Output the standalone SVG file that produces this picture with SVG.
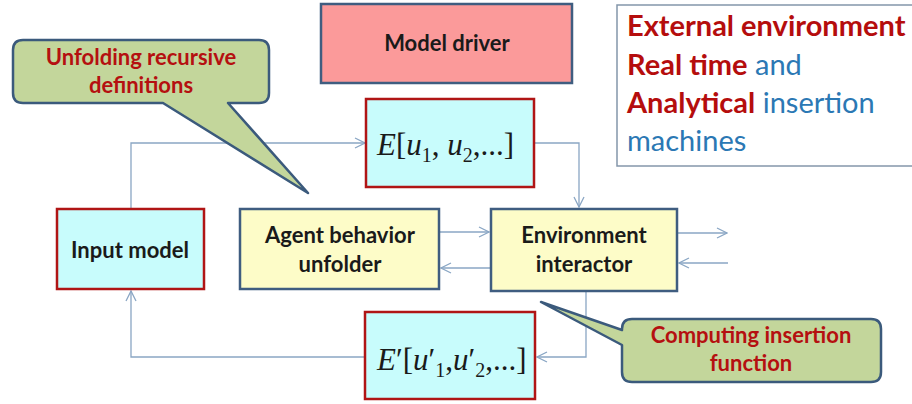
<svg xmlns="http://www.w3.org/2000/svg" width="912" height="404" viewBox="0 0 912 404">
<defs>
<style>
.blue{fill:#c8fcfc;stroke:#b01515;stroke-width:2.5}
.yel{fill:#fdfcc8;stroke:#3f5d80;stroke-width:2.5}
.pink{fill:#fb9a9a;stroke:#3f5d80;stroke-width:2.5}
.call{fill:#c3d69b;stroke:#3b5a7c;stroke-width:2.5;stroke-linejoin:round}
.lbl{font-family:Lato,"Liberation Sans",sans-serif;font-weight:bold;font-size:22px;fill:#1a1a1a;text-anchor:middle}
.clbl{font-family:Lato,"Liberation Sans",sans-serif;font-weight:bold;font-size:22px;fill:#b51010;text-anchor:middle}
.math{font-family:"Liberation Serif","DejaVu Serif",serif;font-size:31px;fill:#1a1a1a}
.it{font-style:italic}
.sub{font-size:20px}
.conn{fill:none;stroke:#8aa6c4;stroke-width:1.3}
.ext{font-family:Lato,"Liberation Sans",sans-serif;font-size:29px}
.r{fill:#b50d0d;font-weight:bold}
.b{fill:#2b78b4}
</style>
<marker id="ah" viewBox="0 0 12 12" refX="11" refY="6" markerWidth="12" markerHeight="12" markerUnits="userSpaceOnUse" orient="auto">
<polyline points="1,1 11,6 1,11" fill="none" stroke="#8aa6c4" stroke-width="1.3"/>
</marker>
</defs>
<rect width="912" height="404" fill="#ffffff"/>

<g id="connectors">
<polyline class="conn" points="131,209 131,143 365,143" marker-end="url(#ah)"/>
<polyline class="conn" points="535,143 579,143 579,207" marker-end="url(#ah)"/>
<line class="conn" x1="440" y1="232" x2="489" y2="232" marker-end="url(#ah)"/>
<line class="conn" x1="490" y1="268" x2="441" y2="268" marker-end="url(#ah)"/>
<line class="conn" x1="678" y1="233" x2="727" y2="233" marker-end="url(#ah)"/>
<line class="conn" x1="728" y1="263" x2="679" y2="263" marker-end="url(#ah)"/>
<polyline class="conn" points="586,292 586,357 537,357" marker-end="url(#ah)"/>
<polyline class="conn" points="364,357 131,357 131,291" marker-end="url(#ah)"/>
</g>

<g id="model-driver">
<rect class="pink" x="321" y="4" width="251" height="79"/>
<text class="lbl" x="447" y="51">Model driver</text>
</g>

<g id="external-environment">
<rect x="617" y="5" width="310" height="161" fill="#ffffff" stroke="#8496aa" stroke-width="1.5"/>
<text class="ext" x="627" y="36"><tspan class="r">External environment</tspan></text>
<text class="ext" x="627" y="75"><tspan class="r">Real time</tspan><tspan class="b"> and</tspan></text>
<text class="ext" x="627" y="113"><tspan class="r">Analytical</tspan><tspan class="b"> insertion</tspan></text>
<text class="ext" x="627" y="151"><tspan class="b">machines</tspan></text>
</g>

<g id="callout-unfolding">
<path class="call" d="M23,40 H259 Q269,40 269,50 V93 Q269,103 259,103 H228 L308,193 L163,103 H23 Q13,103 13,93 V50 Q13,40 23,40 Z"/>
<text class="clbl" x="141" y="65">Unfolding recursive</text>
<text class="clbl" x="141" y="93">definitions</text>
</g>

<g id="e-box">
<rect class="blue" x="366" y="99" width="168" height="88"/>
<text class="math" x="377" y="155"><tspan class="it">E</tspan>[<tspan class="it">u</tspan><tspan class="sub" dy="7">1</tspan><tspan dy="-7">, </tspan><tspan class="it">u</tspan><tspan class="sub" dy="7">2</tspan><tspan dy="-7">,...]</tspan></text>
</g>

<g id="input-model">
<rect class="blue" x="57" y="209" width="147" height="80"/>
<text class="lbl" x="130" y="258">Input model</text>
</g>

<g id="agent-behavior-unfolder">
<rect class="yel" x="240" y="209" width="199" height="80"/>
<text class="lbl" x="340" y="243">Agent behavior</text>
<text class="lbl" x="340" y="272">unfolder</text>
</g>

<g id="environment-interactor">
<rect class="yel" x="491" y="209" width="186" height="82"/>
<text class="lbl" x="584" y="243">Environment</text>
<text class="lbl" x="584" y="272">interactor</text>
</g>

<g id="e-prime-box">
<rect class="blue" x="365" y="312" width="170" height="87"/>
<text class="math" x="377" y="370"><tspan class="it">E</tspan>′[<tspan class="it">u</tspan>′<tspan class="sub" dy="7">1</tspan><tspan dy="-7">,</tspan><tspan class="it">u</tspan>′<tspan class="sub" dy="7">2</tspan><tspan dy="-7">,...]</tspan></text>
</g>

<g id="callout-computing">
<path class="call" d="M632,319 H871 Q881,319 881,329 V372 Q881,382 871,382 H632 Q622,382 622,372 V345 L541,302 L622,330 V329 Q622,319 632,319 Z"/>
<text class="clbl" x="751" y="343">Computing insertion</text>
<text class="clbl" x="751" y="371">function</text>
</g>
</svg>
